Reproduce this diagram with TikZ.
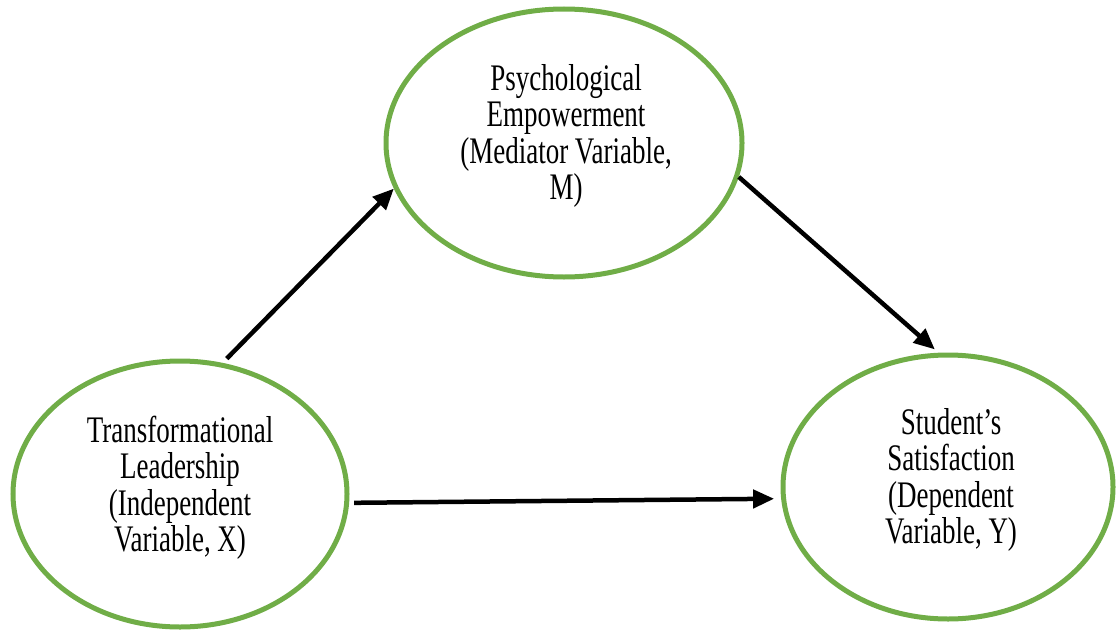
\documentclass[tikz,border=0pt]{standalone}
\usepackage{fontspec}
\setmainfont{Liberation Serif}[FakeStretch=0.72]
\usetikzlibrary{shapes.geometric,arrows.meta}
\definecolor{ringgreen}{RGB}{112,173,71}
\begin{document}
\begin{tikzpicture}[x=1pt,y=-1pt,
  ring/.style={ellipse,draw=ringgreen,line width=5pt,inner sep=0pt},
  vartext/.style={align=center,font=\fontsize{37.5pt}{36.5pt}\selectfont,inner sep=0pt},
  link/.style={line width=4.5pt,-{Triangle[length=21pt,width=18pt]}}]
\useasboundingbox (0,0) rectangle (1116,634);
\node[ring,minimum width=356pt,minimum height=268pt] (T) at (564,143) {};
\node[ring,minimum width=334pt,minimum height=266pt] (L) at (180,494) {};
\node[ring,minimum width=330pt,minimum height=264pt] (R) at (948,487) {};
\node[vartext] (Tt) at (566,136) {Psychological\\Empowerment\\(Mediator Variable,\\M)};
\node[vartext] (Lt) at (180,488) {Transformational\\Leadership\\(Independent\\Variable, X)};
\node[vartext] (Rt) at (951,480) {Student’s\\Satisfaction\\(Dependent\\Variable, Y)};
\draw[link,shorten <=6pt] (L.72) -- (T.195);
\draw[link,shorten >=5pt] (T.-11) -- (R.94);
\draw[link,shorten <=5pt,shorten >=7pt] (L.-3.6) -- (R.184.6);
\end{tikzpicture}
\end{document}
